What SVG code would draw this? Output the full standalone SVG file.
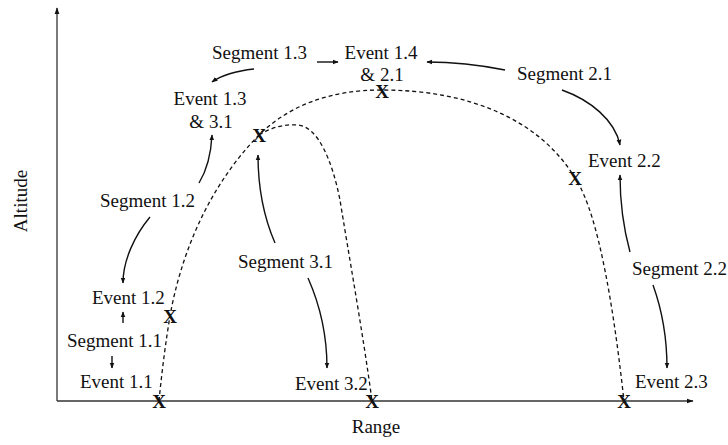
<svg xmlns="http://www.w3.org/2000/svg" width="728" height="445" viewBox="0 0 728 445">
<style>
text{font-family:"Liberation Serif","Times New Roman",serif;font-size:19px;fill:#111}
.x{font-weight:bold;text-anchor:middle;font-size:19px}
.mid{text-anchor:middle}
.axis{stroke:#333;stroke-width:1.3;fill:none}
.traj{stroke:#111;stroke-width:1.3;fill:none;stroke-dasharray:4 3}
.arr{stroke:#111;stroke-width:1.4;fill:none;marker-end:url(#ah)}
</style>
<defs>
<marker id="ah" viewBox="0 0 10 10" refX="9" refY="5" markerWidth="6" markerHeight="6" markerUnits="userSpaceOnUse" orient="auto">
<path d="M0,1 L10,5 L0,9 Z" fill="#111"/>
</marker>
<marker id="axh" viewBox="0 0 10 10" refX="9" refY="5" markerWidth="7" markerHeight="7" markerUnits="userSpaceOnUse" orient="auto">
<path d="M0,1.5 L10,5 L0,8.5 Z" fill="#111"/>
</marker>
</defs>
<rect width="728" height="445" fill="#fff"/>
<g id="axes">
<line class="axis" x1="57" y1="401" x2="57" y2="8" marker-end="url(#axh)"/>
<line class="axis" x1="57" y1="401" x2="693" y2="401" marker-end="url(#axh)"/>
<text x="27" y="201" class="mid" transform="rotate(-90 27 201)">Altitude</text>
<text x="376" y="433" class="mid">Range</text>
</g>
<g id="trajectories">
<path class="traj" d="M159,401 C162,370 166,340 170,316 C180,260 205,190 259,135 C290,105 330,90 382,90 C470,90 540,120 575,178 C600,215 615,320 624,401"/>
<path class="traj" d="M259,135 C272,127 285,124 298,125 C318,127 332,160 340,200 C348,250 364,340 372,401"/>
</g>
<g id="connectors">
<path class="arr" d="M123,323 L123,312"/>
<path class="arr" d="M112,356 L112,368"/>
<path class="arr" d="M150,217 C135,235 123,260 123,283"/>
<path class="arr" d="M199,183 C207,170 211,155 212,135"/>
<path class="arr" d="M254,69 C235,71 222,75 212,82"/>
<path class="arr" d="M317,62 L338,62"/>
<path class="arr" d="M505,70 C480,65 455,62 427,62"/>
<path class="arr" d="M562,90 C590,100 615,120 620,145"/>
<path class="arr" d="M630,252 C624,230 620,200 620,175"/>
<path class="arr" d="M653,285 C662,310 667,340 667,368"/>
<path class="arr" d="M275,243 C265,220 258,190 258,155"/>
<path class="arr" d="M308,278 C320,305 327,335 327,368"/>
</g>
<g id="event-1-1"><text x="80" y="388">Event 1.1</text><text class="x" x="159" y="408">X</text></g>
<g id="segment-1-1"><text x="67" y="347">Segment 1.1</text></g>
<g id="event-1-2"><text x="92" y="304">Event 1.2</text><text class="x" x="170" y="323">X</text></g>
<g id="segment-1-2"><text x="100" y="207">Segment 1.2</text></g>
<g id="event-1-3"><text x="210" y="105" class="mid">Event 1.3</text><text x="211" y="128" class="mid">&amp; 3.1</text><text class="x" x="259" y="142">X</text></g>
<g id="segment-1-3"><text x="212" y="59">Segment 1.3</text></g>
<g id="event-1-4"><text x="381" y="59" class="mid">Event 1.4</text><text x="382" y="81" class="mid">&amp; 2.1</text><text class="x" x="382" y="98">X</text></g>
<g id="segment-2-1"><text x="517" y="80">Segment 2.1</text></g>
<g id="event-2-2"><text x="588" y="167">Event 2.2</text><text class="x" x="575" y="185">X</text></g>
<g id="segment-2-2"><text x="632" y="275">Segment 2.2</text></g>
<g id="event-2-3"><text x="635" y="388">Event 2.3</text><text class="x" x="624" y="408">X</text></g>
<g id="segment-3-1"><text x="238" y="268">Segment 3.1</text></g>
<g id="event-3-2"><text x="295" y="390">Event 3.2</text><text class="x" x="372" y="408">X</text></g>
</svg>
